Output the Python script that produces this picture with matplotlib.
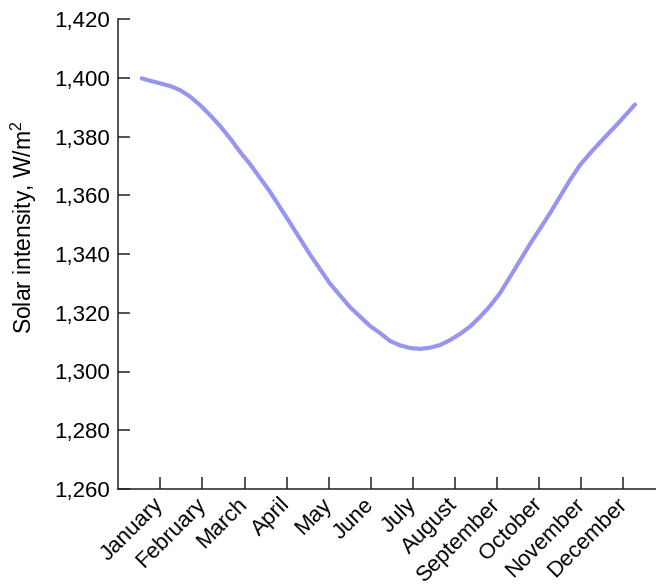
import matplotlib.pyplot as plt

plt.rcParams['font.family'] = ['Liberation Sans', 'DejaVu Sans']
plt.rcParams['mathtext.fontset'] = 'custom'
plt.rcParams['mathtext.rm'] = 'Liberation Sans'
plt.rcParams['mathtext.default'] = 'regular'

# month labels, ticks at 1..12
months = ['January', 'February', 'March', 'April', 'May', 'June', 'July',
          'August', 'September', 'October', 'November', 'December']
month_pos = list(range(1, 13))

# curve (x in month units)
x_vals = [0.556, 0.753, 0.991, 1.228, 1.466, 1.703, 1.941, 2.179, 2.416,
          2.654, 2.891, 3.129, 3.604, 4.079, 4.555, 5.030, 5.505, 5.980,
          6.218, 6.455, 6.693, 6.931, 7.168, 7.406, 7.643, 7.881, 8.119,
          8.356, 8.594, 8.832, 9.069, 9.307, 9.782, 10.257, 10.732, 10.970,
          11.208, 11.523, 11.920, 12.276]
intensity = [1399.8, 1399.0, 1398.1, 1397.2, 1395.8, 1393.6, 1390.7, 1387.3,
             1383.6, 1379.4, 1374.8, 1370.6, 1361.2, 1350.6, 1339.8, 1329.9,
             1321.9, 1315.5, 1313.1, 1310.4, 1308.9, 1308.0, 1307.7, 1308.1,
             1309.0, 1310.7, 1312.8, 1315.3, 1318.6, 1322.3, 1326.7, 1332.2,
             1343.4, 1353.9, 1365.2, 1370.3, 1374.3, 1379.2, 1385.2, 1390.9]

y_ticks = [1260, 1280, 1300, 1320, 1340, 1360, 1380, 1400, 1420]
y_labels = ['1,260', '1,280', '1,300', '1,320', '1,340', '1,360', '1,380',
            '1,400', '1,420']

fig = plt.figure(figsize=(6.56, 5.85), dpi=100)
ax = fig.add_axes([118.3 / 656, 1 - 489 / 585, 547.2 / 656, 470 / 585])

ax.plot(x_vals, intensity, color='#9696f0', lw=3.0, solid_capstyle='round',
        solid_joinstyle='round')

ax.set_xlim(0, 13)
ax.set_ylim(1260, 1420)
ax.set_xticks(month_pos)
ax.set_xticklabels(months, rotation=45, ha='right', va='center',
                   rotation_mode='anchor', fontsize=16)
ax.set_yticks(y_ticks)
ax.set_yticklabels(y_labels, fontsize=16)

for s in ['top', 'right']:
    ax.spines[s].set_visible(False)
for s in ['left', 'bottom']:
    ax.spines[s].set_linewidth(1.1)
    ax.spines[s].set_color('#222222')

ax.tick_params(axis='both', direction='in', length=8.5, width=1.1,
               color='#222222')
ax.tick_params(axis='y', pad=6)
ax.tick_params(axis='x', pad=9)

fig.text(24 / 656, 1 - 227 / 585, 'Solar intensity, W/m$^2$', rotation=90,
         ha='center', va='center', fontsize=16.5)

fig.savefig('out.png', dpi=100)
